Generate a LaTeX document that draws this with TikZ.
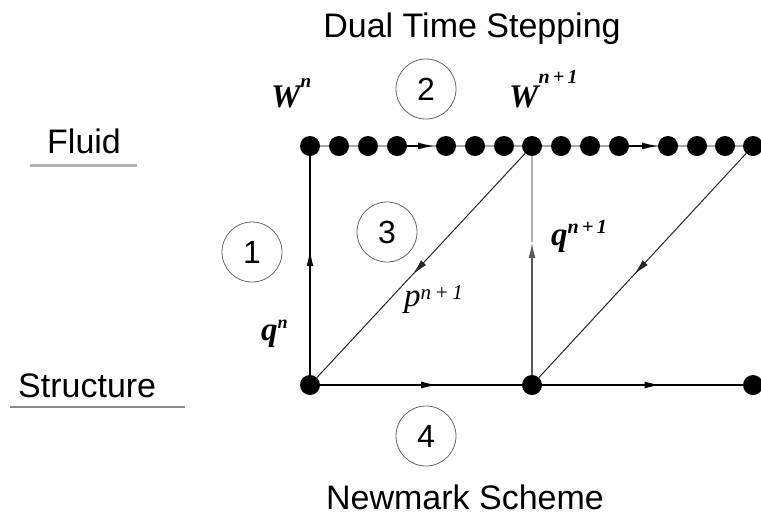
\documentclass[tikz,border=0pt]{standalone}
\usepackage{fontspec}
\setmainfont{Liberation Sans}
\newfontfamily\tms{Liberation Serif}
\usetikzlibrary{arrows.meta,decorations.markings}
\begin{document}
\begin{tikzpicture}[x=1pt,y=-1pt,
  dot/.style={circle,fill=black,inner sep=0pt,minimum size=20pt},
  num/.style={circle,draw=black!60,line width=0.8pt,minimum size=60pt,inner sep=0pt,font=\fontsize{32}{32}\selectfont},
  lbl/.style={inner sep=0pt,font=\fontsize{34}{40}\selectfont},
  mlbl/.style={inner sep=0pt,anchor=base west,font=\tms\fontsize{33}{33}\selectfont\bfseries\itshape},
  plbl/.style={inner sep=0pt,anchor=base west,font=\tms\fontsize{33}{33}\selectfont\itshape},
  tip/.style={-{Latex[length=16pt,width=7pt]}},
  midarrow/.style={postaction={decorate},decoration={markings,mark=at position #1 with {\arrow{Latex[length=16pt,width=7pt]}}}},
  blackline/.style={draw=black,line width=1.3pt},
  thinline/.style={draw=black!85,line width=1pt},
  fluidline/.style={draw=black!35,line width=2pt},
]
\useasboundingbox (0,0) rectangle (761,515);

% titles
\node[lbl,anchor=base] (dts) at (472,37) {Dual Time Stepping};
\node[lbl,anchor=base] (nms) at (465,509) {Newmark Scheme};
\node[lbl,anchor=base west] (fluid) at (47,153) {Fluid};
\node[lbl,anchor=base west] (struct) at (18,397) {Structure};
\draw[draw=black!30,line width=3pt] (30,165) -- (137,165);
\draw[draw=black!45,line width=2.5pt] (10,407) -- (185,407);

% fluid dots
\foreach \x [count=\i] in {310,339,368,397,446,475,504,532,561,590,619,668,697,725,753}
  \node[dot] (F\i) at (\x,146) {};
% structure dots
\node[dot] (S1) at (310,385) {};
\node[dot] (S2) at (532,385) {};
\node[dot] (S3) at (753,385) {};

% fluid line
\foreach \i [evaluate=\i as \j using int(\i+1)] in {1,...,14}
  \draw[fluidline] (F\i) -- (F\j);
\coordinate (ta1) at (434,146);
\coordinate (ta2) at (658,146);
\draw[blackline,tip] (F4) -- (ta1);
\draw[blackline,tip] (F11) -- (ta2);

% structure line
\draw[blackline,midarrow=0.58] (S1) -- (S2);
\draw[blackline,midarrow=0.59] (S2) -- (S3);

% verticals
\draw[blackline,midarrow=0.57] (S1) -- (F1);
\coordinate (m2) at (532,242);
\draw[draw=black!65,line width=2pt,tip] (S2) -- (m2);
\draw[draw=black!30,line width=1.6pt] (m2) -- (F8);

% diagonals
\draw[thinline,midarrow=0.54] (F8) -- (S1);
\draw[thinline,midarrow=0.54] (F15) -- (S2);

% circled numbers
\node[num] (c1) at (252,252) {1};
\node[num] (c2) at (426,89) {2};
\node[num] (c3) at (387,232) {3};
\node[num] (c4) at (426,436) {4};

% math labels
\node[mlbl] (wn) at (271,107) {W\raisebox{20pt}{\fontsize{19}{19}\selectfont n}};
\node[mlbl] (wn1) at (509,107) {W\raisebox{24pt}{\fontsize{20}{20}\selectfont n\,+\,1}};
\node[mlbl] (qn) at (261,340) {q\raisebox{12pt}{\fontsize{18}{18}\selectfont n}};
\node[mlbl] (qn1) at (551,245) {q\raisebox{12pt}{\fontsize{20}{20}\selectfont n\,+\,1}};
\node[plbl] (pn1) at (404,306) {p\raisebox{7pt}{\fontsize{21}{21}\selectfont n\,+\,1}};
\end{tikzpicture}
\end{document}
